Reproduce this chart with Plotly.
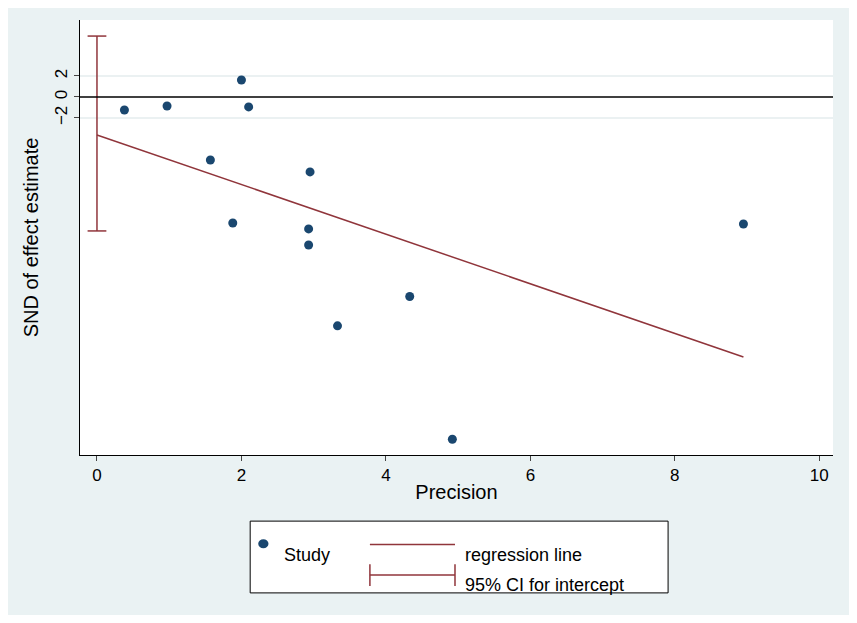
import plotly.graph_objects as go

precision = [0.38, 0.97, 2.0, 2.1, 1.57, 2.95, 1.88, 2.93, 2.93, 3.33, 4.33, 4.92, 8.95]
snd = [-1.24, -0.86, 1.62, -0.95, -6.0, -7.14, -12.0, -12.57, -14.1, -21.8, -19.0, -32.6, -12.1]
reg_x = [0, 8.95]
reg_y = [-3.62, -24.76]
ci_low, ci_high = -12.76, 5.8

red = "#90353b"
navy = "#1a476f"

fig = go.Figure()
fig.add_trace(go.Scatter(x=reg_x, y=reg_y, mode="lines", line=dict(color=red, width=1.5)))
cap = 0.13
fig.add_trace(go.Scatter(
    x=[0, 0, None, -cap, cap, None, -cap, cap],
    y=[ci_low, ci_high, None, ci_low, ci_low, None, ci_high, ci_high],
    mode="lines", line=dict(color=red, width=1.5)))
fig.add_trace(go.Scatter(x=precision, y=snd, mode="markers",
                         marker=dict(color=navy, size=9)))

for yv in [-2, 2]:
    fig.add_shape(type="line", xref="paper", x0=0, x1=1, y0=yv, y1=yv,
                  line=dict(color="#e4ecee", width=1.5), layer="below")
fig.add_shape(type="line", xref="paper", x0=0, x1=1, y0=0, y1=0,
              line=dict(color="black", width=1.5))

# legend box
fig.add_shape(type="rect", xref="paper", yref="paper", x0=0.226, x1=0.781,
              y0=-0.317, y1=-0.152, line=dict(color="black", width=1), fillcolor="white")
fig.add_shape(type="circle", xref="paper", yref="paper", x0=0.238, x1=0.249,
              y0=-0.212, y1=-0.196, fillcolor=navy, line=dict(color=navy))
fig.add_shape(type="line", xref="paper", yref="paper", x0=0.385, x1=0.498,
              y0=-0.206, y1=-0.206, line=dict(color=red, width=1.5))
fig.add_shape(type="line", xref="paper", yref="paper", x0=0.385, x1=0.498,
              y0=-0.276, y1=-0.276, line=dict(color=red, width=1.5))
for xc in [0.385, 0.498]:
    fig.add_shape(type="line", xref="paper", yref="paper", x0=xc, x1=xc,
                  y0=-0.301, y1=-0.251, line=dict(color=red, width=1.5))
for tx, ty, t in [(0.268, -0.206, "Study"), (0.508, -0.206, "regression line"),
                  (0.508, -0.276, "95% CI for intercept")]:
    fig.add_annotation(xref="paper", yref="paper", x=tx, y=ty - 0.023, text=t, showarrow=False,
                       xanchor="left", yanchor="middle", font=dict(size=18, color="black"))

fig.update_layout(
    width=841, height=607, showlegend=False,
    margin=dict(l=72, r=16, t=12, b=160),
    paper_bgcolor="#eaf2f3", plot_bgcolor="white",
    font=dict(family="Arial, Liberation Sans", size=17, color="black"),
    xaxis=dict(range=[-0.235, 10.19], tickvals=[0, 2, 4, 6, 8, 10], ticks="outside",
               showgrid=False, zeroline=False, showline=True, linecolor="black",
               title=dict(text="Precision", standoff=0)),
    yaxis=dict(range=[-34.1, 7.33], tickvals=[-2, 0, 2], tickangle=-90, ticks="outside",
               showgrid=False, zeroline=False, showline=True, linecolor="black",
               title=dict(text="SND of effect estimate", standoff=8)),
)
fig.write_html("out.html")
